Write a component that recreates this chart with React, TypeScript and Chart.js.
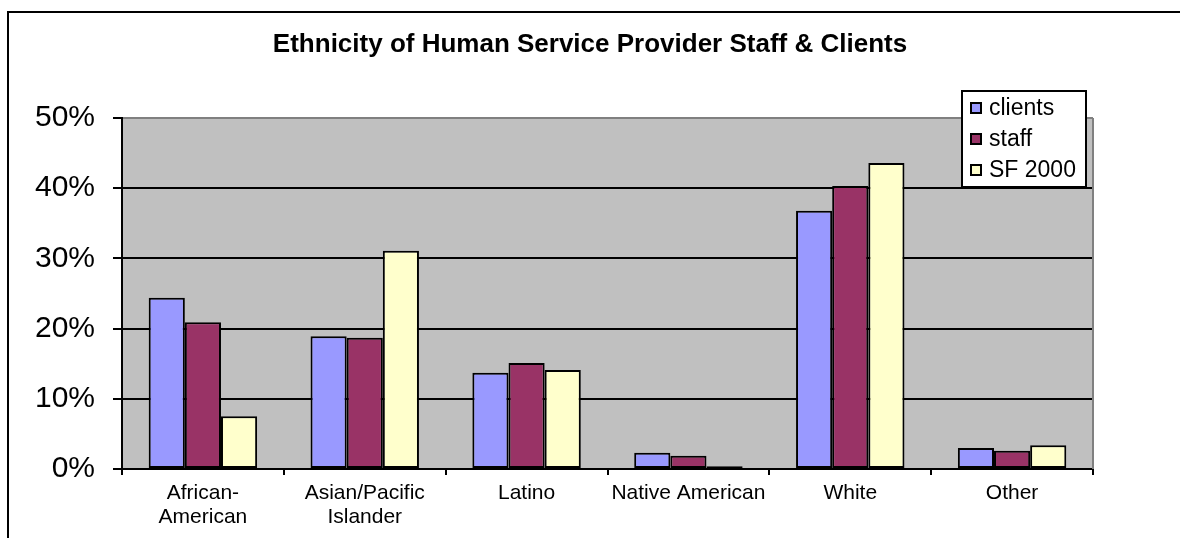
import React, { useEffect, useRef } from "react";
import { Chart, registerables } from "chart.js";

Chart.register(...registerables);

const chartTitle = "Ethnicity of Human Service Provider Staff & Clients";
const categories: (string | string[])[] = [
  ["African-", "American"],
  ["Asian/Pacific", "Islander"],
  "Latino",
  "Native American",
  "White",
  "Other",
];
const seriesNames = ["clients", "staff", "SF 2000"];
const clients = [0.244, 0.189, 0.137, 0.023, 0.368, 0.030];
const staff = [0.209, 0.187, 0.151, 0.019, 0.403, 0.026];
const sf2000 = [0.075, 0.311, 0.141, 0.004, 0.436, 0.034];
const seriesColors = ["#9999FF", "#993366", "#FFFFCC"];
const yMin = 0;
const yMax = 0.5;
const yStep = 0.1;

const FONT = "'Liberation Sans', Arial, sans-serif";

const decorPlugin = {
  id: "decor",
  beforeDraw(chart: any) {
    const { ctx, chartArea } = chart;
    ctx.save();
    ctx.fillStyle = "#ffffff";
    ctx.fillRect(0, 0, chart.width, chart.height);
    ctx.fillStyle = "#C0C0C0";
    ctx.fillRect(chartArea.left, chartArea.top, chartArea.right - chartArea.left, chartArea.bottom - chartArea.top);
    ctx.strokeStyle = "#000000";
    ctx.lineWidth = 2;
    ctx.beginPath();
    ctx.moveTo(8, chart.height + 5);
    ctx.lineTo(8, 12);
    ctx.lineTo(chart.width + 5, 12);
    ctx.stroke();
    ctx.restore();
  },
  beforeDatasetsDraw(chart: any) {
    const { ctx, chartArea } = chart;
    ctx.save();
    ctx.strokeStyle = "#808080";
    ctx.lineWidth = 2;
    ctx.beginPath();
    ctx.moveTo(chartArea.right, chartArea.top);
    ctx.lineTo(chartArea.right, chartArea.bottom);
    ctx.stroke();
    ctx.restore();
  },
  afterDraw(chart: any) {
    const { ctx } = chart;
    ctx.save();
    ctx.fillStyle = "#000000";
    ctx.font = `bold 26px ${FONT}`;
    ctx.textAlign = "center";
    ctx.textBaseline = "alphabetic";
    ctx.fillText(chartTitle, 590, 52);
    ctx.textAlign = "left";
    const bx = 962, by = 91, bw = 124, bh = 96;
    ctx.fillStyle = "#ffffff";
    ctx.fillRect(bx, by, bw, bh);
    ctx.strokeStyle = "#000000";
    ctx.lineWidth = 2;
    ctx.strokeRect(bx, by, bw, bh);
    ctx.font = `23px ${FONT}`;
    ctx.textBaseline = "middle";
    chart.data.datasets.forEach((ds: any, i: number) => {
      const cy = 108 + i * 31;
      ctx.fillStyle = ds.backgroundColor;
      ctx.fillRect(971, cy - 5, 10, 10);
      ctx.lineWidth = 2;
      ctx.strokeStyle = "#000000";
      ctx.strokeRect(971, cy - 5, 10, 10);
      ctx.fillStyle = "#000000";
      ctx.fillText(ds.label, 989, cy + 1);
    });
    ctx.restore();
  },
};

export default function App() {
  const ref = useRef<HTMLCanvasElement | null>(null);

  useEffect(() => {
    if (!ref.current) return;
    const seriesValues = [clients, staff, sf2000];
    const chart = new Chart(ref.current, {
      type: "bar",
      data: {
        labels: categories,
        datasets: seriesNames.map((name, i) => ({
          label: name,
          data: seriesValues[i],
          backgroundColor: seriesColors[i],
          borderColor: "#000000",
          borderWidth: 2,
          borderSkipped: false,
          barPercentage: 1,
          categoryPercentage: 0.67,
        })),
      },
      options: {
        animation: false,
        responsive: false,
        maintainAspectRatio: false,
        events: [],
        layout: { padding: { left: 0, right: 87, top: 118, bottom: 0 } },
        plugins: {
          legend: { display: false },
          title: { display: false },
          tooltip: { enabled: false },
        },
        scales: {
          x: {
            type: "category",
            offset: true,
            afterFit: (s: any) => {
              s.height = 69;
            },
            grid: {
              offset: true,
              drawOnChartArea: false,
              drawTicks: true,
              tickLength: 6,
              color: "#000000",
              lineWidth: 2,
            },
            border: { display: true, color: "#000000", width: 2 },
            ticks: {
              color: "#000000",
              font: { family: FONT, size: 21, lineHeight: 1.15 },
              maxRotation: 0,
              minRotation: 0,
              autoSkip: false,
              padding: 6,
            },
          },
          y: {
            min: yMin,
            max: yMax,
            afterFit: (s: any) => {
              s.width = 122;
            },
            grid: {
              color: (c: any) => (c.tick && Math.abs(c.tick.value - yMax) < 1e-9 ? "#808080" : "#000000"),
              tickColor: "#000000",
              lineWidth: 2,
              tickLength: 9,
              drawTicks: true,
            },
            border: { display: true, color: "#000000", width: 2 },
            ticks: {
              stepSize: yStep,
              color: "#000000",
              padding: 18,
              font: { family: FONT, size: 30 },
              callback: (v: any) => `${Math.round(Number(v) * 100)}%`,
            },
          },
        },
      },
      plugins: [decorPlugin],
    });
    return () => chart.destroy();
  }, []);

  return (
    <div style={{ position: "fixed", left: 0, top: 0, width: 1180, height: 538, background: "#fff" }}>
      <canvas ref={ref} width={1180} height={538} style={{ display: "block", width: 1180, height: 538 }} />
    </div>
  );
}
